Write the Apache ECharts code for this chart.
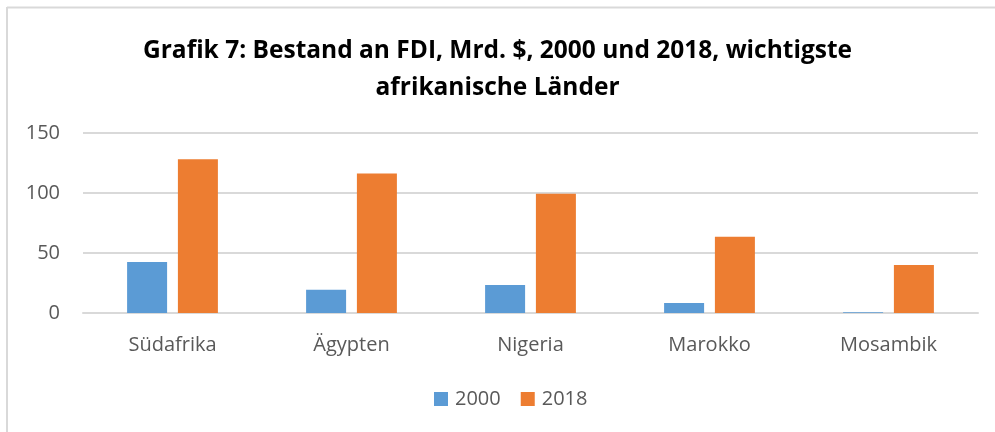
<!DOCTYPE html>
<html><head><meta charset="utf-8">
<script src="https://cdn.jsdelivr.net/npm/echarts@6/dist/echarts.min.js"></script>
<style>html,body{margin:0;padding:0;background:#fff}#c{width:995px;height:432px}</style>
</head><body><div id="c"></div>
<script>
const categories = ['Südafrika', 'Ägypten', 'Nigeria', 'Marokko', 'Mosambik'];
const values2000 = [42.6, 19.4, 23.3, 8.3, 0.6];
const values2018 = [128.2, 116.3, 99.3, 63.6, 39.9];
const seriesNames = ['2000', '2018'];
const yTicks = { min: 0, max: 150, interval: 50 };

const chart = echarts.init(document.getElementById('c'), null, { renderer: 'canvas' });
const font = '"Open Sans", "Noto Sans", sans-serif';
chart.setOption({
  animation: false,
  title: {
    text: 'Grafik 7: Bestand an FDI, Mrd. $, 2000 und 2018, wichtigste\nafrikanische Länder',
    left: 'center', top: 28,
    textStyle: { fontFamily: font, fontWeight: 'bold', fontSize: 24.5, color: '#000', lineHeight: 37 }
  },
  legend: {
    bottom: 18, left: 429, itemWidth: 14, itemHeight: 14, itemGap: 20,
    icon: 'rect',
    textStyle: { fontFamily: font, fontSize: 20, color: '#595959', padding: [0, 0, 0, 2] },
    data: seriesNames
  },
  grid: { left: 83, right: 17, top: 133, bottom: 119, containLabel: false },
  xAxis: {
    type: 'category', data: categories,
    axisLine: { lineStyle: { color: '#d9d9d9', width: 2 } },
    axisTick: { show: false },
    axisLabel: { fontFamily: font, fontSize: 20, color: '#595959', margin: 22 }
  },
  yAxis: {
    type: 'value', min: yTicks.min, max: yTicks.max, interval: yTicks.interval,
    axisLine: { show: false }, axisTick: { show: false },
    splitLine: { lineStyle: { color: '#d9d9d9', width: 2 } },
    axisLabel: { fontFamily: font, fontSize: 20, color: '#595959', margin: 23 }
  },
  series: [
    { name: seriesNames[0], type: 'bar', data: values2000, barWidth: 40, barGap: '27%', itemStyle: { color: '#5B9BD5' } },
    { name: seriesNames[1], type: 'bar', data: values2018, barWidth: 40, itemStyle: { color: '#ED7D31' } }
  ],
  graphic: [
    { type: 'line', shape: { x1: 7, y1: 7.5, x2: 995, y2: 7.5 }, style: { stroke: '#d9d9d9', lineWidth: 2 }, silent: true },
    { type: 'line', shape: { x1: 7, y1: 7, x2: 7, y2: 432 }, style: { stroke: '#d9d9d9', lineWidth: 2 }, silent: true }
  ]
});
</script></body></html>
